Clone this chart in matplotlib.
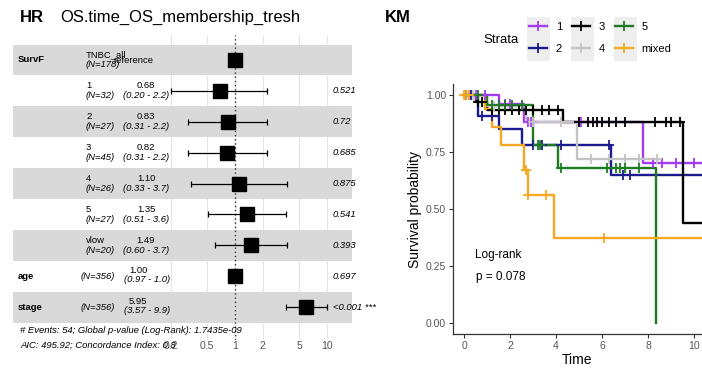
import numpy as np
import matplotlib
matplotlib.use("Agg")
import matplotlib.pyplot as plt
from matplotlib.lines import Line2D
from matplotlib.patches import Rectangle
import matplotlib.transforms as mtransforms

plt.rcParams['font.family'] = ['Liberation Sans', 'DejaVu Sans']

#---------- forest plot data ----------

var_names = ["SurvF", "", "", "", "", "", "", "age", "stage"]
levels = ["TNBC_all", "1", "2", "3", "4", "5", "vlow", "", ""]
n_obs = [178, 32, 27, 45, 26, 27, 20, 356, 356]
hr = [1.0, 0.68, 0.83, 0.82, 1.10, 1.35, 1.49, 1.00, 5.95]
hr_lo = [np.nan, 0.20, 0.31, 0.31, 0.33, 0.51, 0.60, 0.97, 3.57]
hr_hi = [np.nan, 2.2, 2.2, 2.2, 3.7, 3.6, 3.7, 1.0, 9.9]
p_vals = ["", "0.521", "0.72", "0.685", "0.875", "0.541", "0.393", "0.697", "<0.001 ***"]
hr_ticks = [0.2, 0.5, 1, 2, 5, 10]
footer = ["# Events: 54; Global p-value (Log-Rank): 1.7435e-09",
          "AIC: 495.92; Concordance Index: 0.8"]

#---------- KM data ----------

strata = ["1", "2", "3", "4", "5", "mixed"]
km_colors = ["#A23CF2", "#1B1B8F", "#000000", "#C4C4C4", "#1F7A24", "#F7A823"]

# event times and survival after each step
km_times = {
    "1": [1.5, 2.6, 7.8],
    "2": [0.6, 1.5, 2.5, 6.4],
    "3": [0.5, 1.0, 4.3, 9.5],
    "4": [1.0, 2.7, 4.9],
    "5": [1.0, 3.0, 4.1, 8.35],
    "mixed": [0.9, 1.2, 1.6, 2.6, 2.8, 3.9],
}
km_surv = {
    "1": [0.96, 0.88, 0.70],
    "2": [0.91, 0.85, 0.78, 0.65],
    "3": [0.97, 0.935, 0.88, 0.44],
    "4": [0.95, 0.88, 0.72],
    "5": [0.955, 0.78, 0.68, 0.0],
    "mixed": [0.94, 0.86, 0.78, 0.67, 0.56, 0.375],
}
km_end = {"1": 11.0, "2": 11.0, "3": 11.0, "4": 8.4, "5": 8.35, "mixed": 11.0}
km_censor = {
    "1": [0.2, 0.5, 0.9, 1.8, 2.0, 2.8, 2.9, 3.0, 5.0, 5.1, 8.2, 8.6, 9.2, 10.0],
    "2": [0.3, 0.8, 1.2, 3.0, 3.4, 4.2, 6.3, 6.9, 7.2],
    "3": [0.1, 0.6, 0.8, 1.2, 1.5, 1.8, 2.1, 2.4, 2.7, 3.0, 3.4, 3.7, 4.1,
          5.0, 5.4, 5.6, 5.8, 6.0, 6.3, 6.6, 7.0, 8.3, 8.8, 9.0, 9.4],
    "4": [0.4, 1.3, 3.0, 4.2, 5.5, 6.3, 7.0, 7.6, 8.4],
    "5": [0.6, 1.2, 1.5, 1.8, 2.1, 2.5, 3.2, 3.3, 4.2, 6.2, 6.6, 6.8, 7.0, 7.6],
    "mixed": [0.0, 0.1, 0.2, 2.7, 2.8, 3.55, 6.1],
}

W, H = 702, 368
fig = plt.figure(figsize=(W / 100, H / 100), dpi=100)

def fbox(x0, y0, x1, y1):
    # pixel box (top-left origin) -> figure fraction
    return [x0 / W, 1 - y1 / H, (x1 - x0) / W, (y1 - y0) / H]

#---------- forest plot ----------

row_px0, row_step = 60, 30.9
top_px, bot_px = 35, 340
ax = fig.add_axes(fbox(13, top_px, 352, bot_px))
ax.set_xscale('log')
ax.set_xlim(10 ** ((13 - 235) / 92), 10 ** ((352 - 235) / 92))
ax.set_ylim((bot_px - row_px0) / row_step, (top_px - row_px0) / row_step)

rows = np.arange(len(hr))
for r in rows:
    if r % 2 == 0:
        ax.axhspan(r - 0.5, r + 0.5, color='#D9D9D9', zorder=1, lw=0)

ax.set_xticks(hr_ticks)
ax.set_xticklabels([str(t) for t in hr_ticks])
ax.minorticks_off()
ax.grid(axis='x', color='#E6E6E6', lw=0.8, zorder=0)
ax.set_axisbelow(True)
ax.tick_params(axis='x', length=0, pad=1, labelsize=7.5, labelcolor='#555555')
ax.set_yticks([])
for s in ax.spines.values():
    s.set_visible(False)

ax.axvline(1, color='#333333', ls=(0, (1, 2)), lw=1, zorder=2)

hr_a = np.array(hr)
lo_a = np.array(hr_lo)
hi_a = np.array(hr_hi)
ok = ~np.isnan(lo_a)
ax.errorbar(hr_a[ok], rows[ok], xerr=[hr_a[ok] - lo_a[ok], hi_a[ok] - hr_a[ok]],
            fmt='none', ecolor='black', elinewidth=0.9, capsize=2.5, capthick=0.9, zorder=3)
ax.plot(hr_a, rows, 's', color='black', ms=9.5, zorder=4)

tr = mtransforms.blended_transform_factory(ax.transAxes, ax.transData)
def fx(px):
    return (px - 13) / 339

fs = 6.8
for r in rows:
    if var_names[r]:
        ax.text(fx(18), r, var_names[r], transform=tr, fontsize=fs, fontweight='bold',
                va='center', ha='left')
    if r == 0:
        ax.text(fx(86), r - 0.16, levels[r], transform=tr, fontsize=fs, va='center')
        ax.text(fx(86), r + 0.16, "(N=%d)" % n_obs[r], transform=tr, fontsize=fs,
                style='italic', va='center')
        ax.text(fx(113), r + 0.02, "reference", transform=tr, fontsize=fs, va='center')
    elif levels[r]:
        ax.text(fx(86), r - 0.16, levels[r], transform=tr, fontsize=fs, va='center')
        ax.text(fx(86), r + 0.16, "(N=%d)" % n_obs[r], transform=tr, fontsize=fs,
                style='italic', va='center')
        ax.text(fx(146), r - 0.16, "%.2f" % hr[r], transform=tr, fontsize=fs,
                va='center', ha='center')
        ax.text(fx(146), r + 0.16, "(%.2f - %.1f)" % (hr_lo[r], hr_hi[r]), transform=tr,
                fontsize=fs, style='italic', va='center', ha='center')
    else:
        ax.text(fx(81), r, "(N=%d)" % n_obs[r], transform=tr, fontsize=fs,
                style='italic', va='center')
        ax.text(fx(129), r - 0.18, "%.2f" % hr[r], transform=tr, fontsize=fs, va='center')
        ax.text(fx(124), r + 0.1, "(%.2f - %.1f)" % (hr_lo[r], hr_hi[r]), transform=tr,
                fontsize=fs, style='italic', va='center')
    if p_vals[r]:
        ax.text(fx(333), r, p_vals[r], transform=tr, fontsize=fs, style='italic', va='center')

ax.text(fx(20), (331 - row_px0) / row_step, footer[0], transform=tr, fontsize=fs,
        style='italic', va='center')
ax.text(fx(20), (345 - row_px0) / row_step, footer[1], transform=tr, fontsize=fs,
        style='italic', va='center', clip_on=False)

fig.text(20 / W, 1 - 17 / H, "HR", fontsize=12, fontweight='bold', va='center')
fig.text(60 / W, 1 - 17 / H, "OS.time_OS_membership_tresh", fontsize=12, va='center')

#---------- KM plot ----------

km = fig.add_axes(fbox(453, 83.6, 702, 334.4))
km.set_xlim((453 - 464) / 23, (702 - 464) / 23)
km.set_ylim(-0.05, 1.05)

handles = []
for name, col in zip(strata, km_colors):
    t = np.array([0.0] + km_times[name] + [km_end[name]])
    s = np.array([1.0] + km_surv[name] + [km_surv[name][-1]])
    km.step(t, s, where='post', color=col, lw=1.7, zorder=3)
    ct = np.array(km_censor[name])
    idx = np.searchsorted(np.array(km_times[name]), ct, side='right')
    cs = np.array([1.0] + km_surv[name])[idx]
    km.plot(ct, cs, '+', color=col, ms=7, mew=1.3, zorder=4)
    handles.append(Line2D([], [], color=col, lw=1.7, marker='+', ms=7, mew=1.3))

km.set_xticks([0, 2, 4, 6, 8, 10])
km.set_yticks([0, 0.25, 0.5, 0.75, 1.0])
km.set_yticklabels(["0.00", "0.25", "0.50", "0.75", "1.00"])
km.tick_params(length=3, width=0.8, color='#333333', labelsize=7.5, labelcolor='#555555', pad=2)
for s in ['top', 'right']:
    km.spines[s].set_visible(False)
for s in ['left', 'bottom']:
    km.spines[s].set_color('#333333')
    km.spines[s].set_linewidth(0.9)
km.set_xlabel("Time", fontsize=10, labelpad=1)
km.set_ylabel("Survival probability", fontsize=10, labelpad=3)

km.text(0.5, 0.3, "Log-rank", fontsize=8.5, va='center')
km.text(0.5, 0.2, "p = 0.078", fontsize=8.5, va='center')

fig.text(385 / W, 1 - 18 / H, "KM", fontsize=12, fontweight='bold', va='center')
fig.text(483 / W, 1 - 40 / H, "Strata", fontsize=9.5, va='center')

for x0 in [527, 571, 614]:
    fig.patches.append(Rectangle((x0 / W, 1 - 61 / H), 23 / W, 44 / H, transform=fig.transFigure,
                                 color='#EEEEEE', lw=0, zorder=0))

fig.legend(handles, strata, ncol=3, frameon=False, loc='upper left',
           bbox_to_anchor=(529 / W, 1 - 22 / H), fontsize=8, handlelength=1.6,
           handletextpad=0.8, columnspacing=0.9, labelspacing=1.1, borderpad=0,
           borderaxespad=0)

fig.savefig("out.png", dpi=100)
